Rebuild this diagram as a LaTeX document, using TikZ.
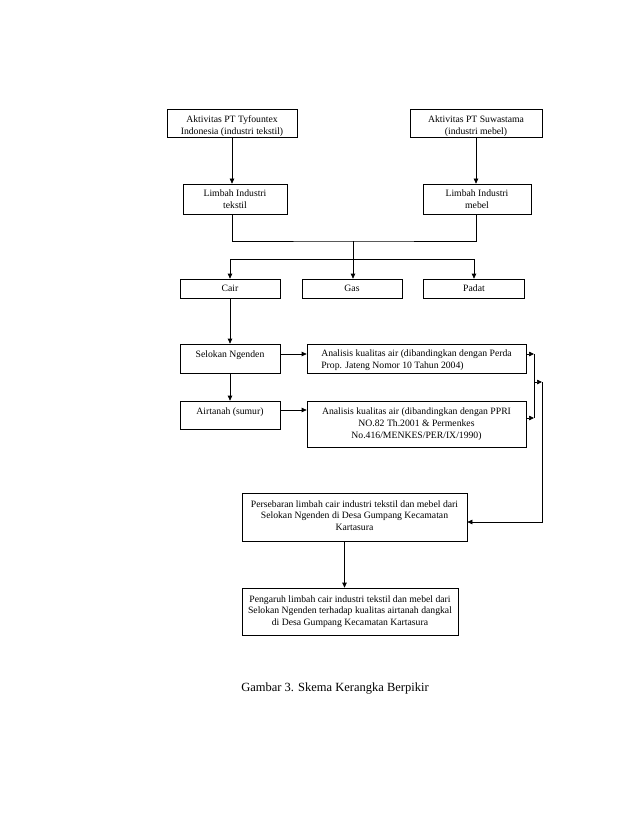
\documentclass[tikz,border=0pt]{standalone}
\usepackage{fontspec}
\setmainfont{Liberation Serif}
\usetikzlibrary{arrows.meta}
\newcommand{\lowc}[2]{\raisebox{-#1}[\height][\depth]{\begin{tabular}{@{}c@{}}#2\end{tabular}}}
\newcommand{\lowl}[2]{\raisebox{-#1}[\height][\depth]{\begin{tabular}{@{}l@{}}#2\end{tabular}}}
\begin{document}
\begin{tikzpicture}[x=1pt,y=-1pt,
  box/.style={draw, line width=0.7pt, inner sep=2pt, align=center, font=\fontsize{9.7}{11.7}\selectfont},
  up/.style={execute at begin node={\rule[-#1]{0pt}{#1}}},
  conn/.style={line width=0.7pt},
  arr/.style={conn, -{Triangle[length=5pt,width=4.5pt]}}]
\useasboundingbox[fill=white] (0,0) rectangle (638,826);

% top row
\node[box, minimum width=130pt, minimum height=28pt] (b1) at (232,123) {\lowc{3pt}{Aktivitas PT Tyfountex\\Indonesia (industri tekstil)}};
\node[box, minimum width=132pt, minimum height=28pt] (b2) at (476,123) {\lowc{3pt}{Aktivitas PT Suwastama\\(industri mebel)}};
\node[box, minimum width=104pt, minimum height=30pt] (l1) at (235,199) {\lowc{1.5pt}{Limbah Industri\\tekstil}};
\node[box, minimum width=108pt, minimum height=30pt] (l2) at (477,199) {\lowc{1.5pt}{Limbah Industri\\mebel}};

% phases
\node[box, minimum width=100pt, minimum height=19pt] (cair) at (230,288.5) {Cair};
\node[box, minimum width=100pt, minimum height=19pt] (gas) at (352,288.5) {Gas};
\node[box, minimum width=101pt, minimum height=19pt] (padat) at (474,288.5) {Padat};

% left column
\node[box, up=9pt, minimum width=100pt, minimum height=29pt] (sel) at (230,358.5) {Selokan Ngenden};
\node[box, up=8pt, minimum width=100pt, minimum height=28pt] (air) at (230,415) {Airtanah (sumur)};

% analysis boxes
\node[box, minimum width=219pt, minimum height=29pt] (a1) at (416.5,358.5) {\lowl{1.5pt}{Analisis kualitas air (dibandingkan dengan Perda\\Prop. Jateng Nomor 10 Tahun 2004)}};
\node[box, minimum width=219pt, minimum height=46pt] (a2) at (416.5,424) {Analisis kualitas air (dibandingkan dengan PPRI\\NO.82 Th.2001 \& Permenkes\\No.416/MENKES/PER/IX/1990)};

% bottom boxes
\node[box, up=3pt, minimum width=225pt, minimum height=48pt] (p1) at (354.5,517) {Persebaran limbah cair industri tekstil dan mebel dari\\Selokan Ngenden di Desa Gumpang Kecamatan\\Kartasura};
\node[box, minimum width=216pt, minimum height=47pt] (p2) at (350,611.5) {Pengaruh limbah cair industri tekstil dan mebel dari\\Selokan Ngenden terhadap kualitas airtanah dangkal\\di Desa Gumpang Kecamatan Kartasura};

% caption
\node[font=\fontsize{12.5}{14}\selectfont, inner sep=0pt] (cap) at (335,689) {Gambar 3. Skema Kerangka Berpikir};

% connectors top
\draw[arr] (b1.south) -- (b1.south |- l1.north);
\draw[arr] (b2.south) -- (b2.south |- l2.north);
\coordinate (j1) at (353,241);
\coordinate (j2) at (353,259);
\draw[conn] (b1.south |- l1.south) |- (j1) -| (b2.south |- l2.south);
\draw[conn] (j1) -- (j2);
\draw[arr] (j2) -| (cair.north);
\draw[arr] (j2) -| (padat.north);
\draw[arr] (j2) -- (j2 |- gas.north);

% left column
\draw[arr] (cair.south) -- (sel.north);
\draw[arr] (sel.south) -- (air.north);
\draw[arr] ([yshift=4.5pt]sel.east) -- ([yshift=4.5pt]sel.east -| a1.west);
\draw[arr] ([yshift=5pt]air.east) -- ([yshift=5pt]air.east -| a2.west);

% right collector
\coordinate (r1) at (534,354);
\coordinate (r2) at (534,418);
\coordinate (rm) at (534,382);
\coordinate (s1) at (542,382);
\draw[arr] (a1.east |- r1) -- (r1);
\draw[arr] (a2.east |- r2) -- (r2);
\draw[conn] (r1) -- (r2);
\draw[arr] (rm) -- (s1);
\draw[arr] (s1) |- ([yshift=-5pt]p1.east);

% down to final
\draw[arr] ([xshift=-10pt]p1.south) -- ([xshift=-10pt]p1.south |- p2.north);
\end{tikzpicture}
\end{document}
